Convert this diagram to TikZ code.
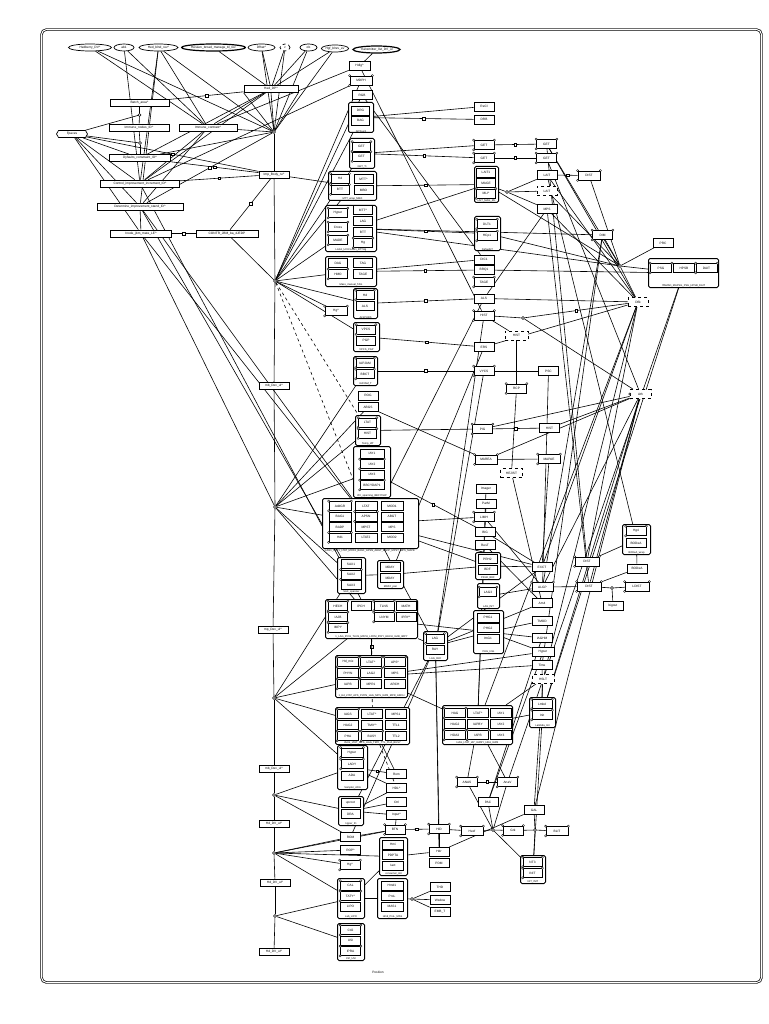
\documentclass[tikz,border=0pt]{standalone}
\usepackage{fontspec}
\setmainfont{Liberation Sans}
\usetikzlibrary{shapes.geometric,shapes.symbols}
\pgfdeclarelayer{bg}
\pgfsetlayers{bg,main}
\newcommand\hatc{\textasciicircum}
\newcommand\bx[5][20]{\node[bx,minimum width=#1pt] (#2) at (#3,#4) {#5};}
\newcommand\dbx[5][20]{\node[bx,dashed,minimum width=#1pt] (#2) at (#3,#4) {#5};}
\newcommand\cpx[5][20]{\node[bx,minimum width=#1pt] (#2) at (#3,#4) {#5};
  \foreach \q in {north west,north east,south west}{\draw[fill=white,line width=0.4pt] (#2.\q) circle (1.1pt);}}
\newcommand\grp[6]{\node[grpst,anchor=north west,minimum width=#4pt,minimum height=#5pt] (#1) at (#2,#3) {};
  \node[gcap,anchor=south] (#1c) at (#1.south) {#6};}
\newcommand\ed[3][]{\draw[ln,#1] (#2) -- (#3);}
\newcommand\edm[3][]{\draw[ln,#1] (#2) -- node[msq]{} (#3);}
\begin{document}
\begin{tikzpicture}[x=1pt,y=-1pt,
 every node/.style={font=\fontsize{3.2}{3.6}\selectfont},
 bx/.style={draw,fill=white,line width=0.7pt,minimum width=20pt,minimum height=9pt,inner sep=0.3pt},
 lb/.style={draw,fill=white,line width=0.7pt,minimum height=7pt,inner sep=0.3pt},
 el/.style={draw,fill=white,ellipse,line width=0.7pt,minimum height=7pt,inner sep=0.2pt},
 grpst/.style={draw,fill=white,line width=1pt,rounded corners=1.5pt,inner sep=0},
 gcap/.style={inner sep=0.6pt,font=\fontsize{2.6}{3}\selectfont},
 jn/.style={draw,fill=white,circle,inner sep=0,minimum size=3pt,line width=0.5pt},
 msq/.style={draw,fill=white,inner sep=0,minimum size=2.6pt,line width=0.5pt},
 ln/.style={line width=0.6pt},
 sig/.style={draw,fill=white,signal,signal to=east and west,signal pointer angle=120,minimum height=7pt,inner sep=0.5pt,line width=0.7pt},
]
\useasboundingbox (0,0) rectangle (768,1024);
\begin{pgfonlayer}{bg}
\fill[white] (0,0) rectangle (768,1024);
\end{pgfonlayer}
\draw[line width=0.7pt,double distance=1pt,rounded corners=5pt] (41.5,29.5) rectangle (761.5,982.5);

% ---- top ellipses
\node[el,minimum width=43pt] (e1) at (90,47.5) {Hedberry\_DV\hatc};
\node[el,minimum width=20pt] (e2) at (124,47.5) {ab1};
\node[el,minimum width=39pt] (e3) at (158.5,47.5) {Hed\_blnd\_rev\hatc};
\node[el,minimum width=61pt,line width=1.2pt] (e4) at (213.5,47.5) {Hessen\_broad\_manage\_bl\_rev};
\node[el,minimum width=27pt] (e5) at (261.5,47.5) {Dfhat\hatc};
\node[el,minimum width=10pt,dashed] (e6) at (285,47.5) {v};
\node[el,minimum width=17pt] (e7) at (308.5,47.5) {ob};
\node[el,minimum width=27pt] (e8) at (335,48.5) {Hgf\_blrev\_ev};
\node[el,minimum width=47pt,line width=1.2pt] (e9) at (376.5,49.5) {Transmitter\_list\_DV\_ul};

% ---- left cluster
\node[lb,minimum width=54pt] (hdp) at (271,89) {Hed\_DP\hatc};
\node[lb,minimum width=59pt] (batch) at (139.5,102.5) {Batch\_area\hatc};
\node[lb,minimum width=60pt] (inodes) at (139,127.5) {Immune\_nodes\_ID\hatc};
\node[lb,minimum width=58pt] (icon) at (208,127.5) {Immune\_contrast\hatc};
\node[sig,minimum width=31pt] (fp) at (72,134) {Fpaces};
\node[lb,minimum width=61pt] (dyf) at (140,158) {Dyfaults\_constraint\_ID\hatc};
\node[lb,minimum width=30pt] (imp) at (274,174.5) {Imp\_Body\_ru\hatc};
\node[lb,minimum width=79pt] (ctrl) at (140,183.5) {Control\_improvement\_increment\_ID\hatc};
\node[lb,minimum width=86pt] (det) at (140,206.5) {Determine\_improvement\_stand\_ID\hatc};
\node[lb,minimum width=61pt] (inode) at (141,233.5) {Inode\_jbm\_mate\_LE\hatc};
\node[lb,minimum width=62pt] (contr) at (227,233.5) {CONTR\_JBM\_ba\_4JEDP};

% ---- chain
\node[lb,minimum width=30pt] (mb1) at (274,386) {mb\_Dev\_ul\hatc};
\node[lb,minimum width=30pt] (mp) at (273,630) {mp\_Dev\_ul\hatc};
\node[lb,minimum width=30pt] (mb2) at (274,769) {mb\_Dev\_ul\hatc};
\node[lb,minimum width=30pt] (hd1) at (274,824) {Hd\_DV\_ul\hatc};
\node[lb,minimum width=30pt] (hd2) at (275,883) {Hd\_DV\_ul\hatc};
\node[lb,minimum width=30pt] (hd3) at (274,952) {Hd\_DV\_ul\hatc};
\node[jn] (hub) at (274,132) {};
\node[jn] (j1) at (275,281) {};
\node[jn] (j2) at (275,507) {};
\node[jn] (j3) at (274,698) {};
\node[jn] (j4) at (274,795) {};
\node[jn] (j5) at (274,853) {};
\node[jn] (j6) at (275,916) {};
\node[jn] (jb) at (139.5,115) {};
\node[jn] (jc) at (140,143) {};

% ---- central column
\bx[21]{hdlg}{359.5}{66}{Hdlg\hatc}
\cpx[22]{mdph}{361}{80.5}{MDPH}
\bx{rgb}{362}{95}{RGB}
\grp{G1}{348}{102}{25}{30}{DrtTouch}
\bx[18]{g1a}{360.5}{110.5}{DRG} \bx[18]{g1b}{360.5}{120.5}{BAG}
\grp{G2}{349}{138}{25}{30}{GET\_Ti}
\cpx[18]{g2a}{361.5}{146.5}{GET} \cpx[18]{g2b}{361.5}{156.5}{GET}
\grp{G3}{328}{171}{48}{29}{MTT\_wrap\_MBO}
\cpx[18]{g3a}{340}{178.5}{Hd} \cpx[18]{g3b}{340}{189.5}{BTT}
\bx[19]{g3c}{363.5}{179}{MTT\hatc} \bx[19]{g3d}{363.5}{190}{MBO}
\grp{G4}{325}{205}{51}{46}{LAG1\_UCICLAG1\_BTTHg}
\cpx[19]{g4a}{338}{213}{Hyper} \cpx[19]{g4b}{338}{227}{Cross} \cpx[19]{g4c}{338}{240}{MADE}
\bx[19]{g4d}{363}{210}{MTT\hatc} \bx[19]{g4e}{363}{221}{LAG} \bx[19]{g4f}{363}{232}{BTT} \cpx[19]{g4g}{363}{243}{Hg}
\grp{G5}{325}{256}{51}{30}{Mass\_manual\_TAG}
\bx[19]{g5a}{338}{263}{DAG} \bx[19]{g5b}{363}{263}{TAG} \cpx[19]{g5c}{338}{274}{HMO} \bx[19]{g5d}{363}{274}{TAGE}
\cpx[22]{hg1}{336}{311}{Hg\hatc}
\grp{G6}{353}{288}{24}{30}{ALSPHBS}
\cpx[18]{g6a}{365}{295}{Hd} \bx[18]{g6b}{365}{306}{ALS}
\grp{G7}{353}{322}{26}{29}{VPCS\_PGP}
\cpx[19]{g7a}{366}{329.5}{VPCS} \bx[19]{g7b}{366}{340.5}{PGP}
\grp{G8}{353}{356}{24}{29}{IAPJAM\_T}
\cpx[18]{g8a}{365}{363}{IAPJAM} \cpx[18]{g8b}{365}{374}{BBCT}
\bx{rog}{368}{395.5}{ROG}
\bx{abgs}{368}{407}{ABGS}
\grp{G9}{355}{415}{25}{30}{Temp\_IAT}
\cpx[18]{g9a}{367.5}{422.5}{LTAT} \cpx[18]{g9b}{367.5}{433.5}{HIST}
\grp{G10}{353}{446}{37}{51}{IAY\_spanning\_BBCYDAP}
\bx[24]{g10a}{372}{453.5}{IAY1} \cpx[24]{g10b}{372}{464}{IAY2} \bx[24]{g10c}{372}{474.5}{IAY3} \cpx[24]{g10d}{372}{485}{BBCYDAP1}
\grp{G11}{322}{498}{96}{50}{}
\node[gcap] (g11t) at (370,551) {LAG1\_MAT1\_LTAT\_MOD1\_BAG1\_APSN\_ABGT\_BADP\_MPST\_MPS\_MAPE};
\cpx[22]{g11a}{340}{506}{AddGR} \bx[22]{g11b}{366}{506}{LTAT} \bx[22]{g11c}{392}{506}{MOD1}
\bx[22]{g11d}{340}{516.5}{BAG1} \cpx[22]{g11e}{366}{516.5}{APSN} \bx[22]{g11f}{392}{516.5}{ABGT}
\bx[22]{g11g}{340}{527}{BADP} \bx[22]{g11h}{366}{527}{MPST} \bx[22]{g11i}{392}{527}{MPS}
\cpx[22]{g11j}{340}{537.5}{Hd1} \bx[22]{g11k}{366}{537.5}{LTAT2} \bx[22]{g11l}{392}{537.5}{MOD2}
\grp{G15}{337}{557}{28}{36}{SAX\_spanner}
\bx[20]{g15a}{351}{564}{SAX1} \cpx[20]{g15b}{351}{574.5}{SAX2} \bx[20]{g15c}{351}{585}{SAX3}
\grp{G16}{377}{560}{26}{28}{MDAY\_pair}
\bx[20]{g16a}{390}{567}{MDAY} \bx[20]{g16b}{390}{578}{MDAY}
\grp{G17}{325}{599}{92}{39}{1\_LAG\_IPCH\_TLNS\_MATH\_LNYM\_IPRY\_HECH\_IAJB\_IMPY}
\cpx[19]{g17a}{338}{606}{HECH} \cpx[19]{g17b}{338}{617}{IAJB} \cpx[19]{g17c}{338}{627.5}{IMPY}
\bx[20]{g17d}{361}{606}{IPCH} \cpx[20]{g17e}{384}{606}{TLNS} \bx[20]{g17f}{406}{606}{MATH}
\cpx[20]{g17g}{384}{617}{LNYM} \bx[20]{g17h}{406}{617}{IPRY\hatc}
\grp{G19}{335}{655}{72}{42}{1\_Hd\_LTAT\_APS\_PHYN\_LAG\_MPS\_IAPB\_MPR\_ARCH}
\cpx[21]{g19a}{348}{662}{Hd\_mix} \cpx[21]{g19b}{371}{662}{LTAT\hatc} \cpx[21]{g19c}{395}{662}{APS\hatc}
\bx[21]{g19d}{348}{673}{PHYN} \cpx[21]{g19e}{371}{673}{LAG2} \bx[21]{g19f}{395}{673}{MPS}
\cpx[21]{g19g}{348}{684}{IAPB} \bx[21]{g19h}{371}{684}{MPR1} \bx[21]{g19i}{395}{684}{ARCH}
\grp{G20}{335}{707}{74}{37}{IAGS\_LTAT\_MPS\_HAG\_TMIY\_TTL\_PHA\_BUSY}
\cpx[21]{g20a}{348}{714}{IAGS} \bx[21]{g20b}{372}{714}{LTAT\hatc} \bx[21]{g20c}{396}{714}{MPS1}
\bx[21]{g20d}{348}{725}{HAG2} \bx[21]{g20e}{372}{725}{TMIY\hatc} \bx[21]{g20f}{396}{725}{TTL1}
\cpx[21]{g20g}{348}{736}{PHA} \cpx[21]{g20h}{372}{736}{BUSY} \bx[21]{g20i}{396}{736}{TTL2}
\grp{G21}{442}{705}{70}{39}{HAG\_LTAT\_IAY\_IAPBY\_HDA\_IAPB}
\cpx[21]{g21a}{455}{713}{HAG} \bx[21]{g21b}{478}{713}{LTAT\hatc} \bx[21]{g21c}{501}{713}{IAY1}
\bx[21]{g21d}{455}{724}{HAG2} \bx[21]{g21e}{478}{724}{IAPBY} \bx[21]{g21f}{501}{724}{IAY2}
\cpx[21]{g21g}{455}{735}{HDA3} \cpx[21]{g21h}{478}{735}{IAPB} \bx[21]{g21i}{501}{735}{IAY3}
\grp{GL}{423}{631}{24}{29}{LAG\_RAY}
\cpx[18]{gla}{435}{638.5}{LAG} \bx[18]{glb}{435}{649.5}{RAY}

% ---- right-center column
\bx{recl}{484}{106.5}{ReCl} \bx{drb}{484}{119.5}{DRB}
\cpx{get1}{484}{145}{GET} \cpx{get2}{484}{158}{GET}
\grp{GR1}{474}{166}{24}{36}{LAIT\_MAG\_ML}
\bx[19]{gr1a}{486}{172.5}{LAIT1} \bx[19]{gr1b}{486}{183}{MAGE} \cpx[19]{gr1c}{486}{193.5}{MLI\hatc}
\grp{GR2}{474}{216}{26}{34}{DefaultLT}
\cpx[20]{gr2a}{487}{224}{DLT1} \cpx[20]{gr2b}{487}{236}{HCp1}
\bx{dic1}{484}{259.5}{DIC1} \bx{bigs}{484}{270}{BRQ1} \cpx{tage}{484}{282}{TAGE}
\bx{als}{484}{298.5}{ALS} \cpx{hist1}{484}{315.5}{HIST}
\dbx[23]{hist2}{516.5}{335.5}{HIST}
\bx{ers}{484}{347}{ERS} \cpx{vycs}{484}{371}{VYCS}
\cpx{rcp}{516.5}{388.5}{RCP} \bx{psc}{548.5}{371}{PSC}
\cpx{pig}{482.5}{429}{PIG} \bx{hist3}{549.5}{428}{HIST}
\cpx[22]{marea}{486}{459.5}{MAREA} \cpx[22]{mapae}{549}{459}{MAPAE}
\dbx[22]{hejist}{511.5}{473}{HEJIST}
\bx{imager}{486}{489}{Imager} \bx{parm}{486}{503.5}{ParM}
\cpx{limh}{484}{517}{LIMH} \bx{big}{485}{532}{BIG} \bx{rest}{485}{545}{ResT}
\grp{GR3}{475}{552}{25}{27}{PRH2\_BDF}
\bx[19]{gr3a}{487.5}{559}{PRH2} \bx[19]{gr3b}{487.5}{569.5}{BDF}
\grp{GR4}{477}{583}{22}{25}{LAG\_INT}
\cpx[17]{gr4a}{488}{592}{LAG3}
\grp{GR5}{473}{610}{30}{43}{PHG\_ImG}
\bx[22]{gr5a}{488}{617.5}{PHG1} \bx[22]{gr5b}{488}{628}{PHG2} \bx[22]{gr5c}{488}{638.5}{ImG1}

% ---- far right
\cpx{get3}{546.5}{144}{GET} \cpx{get4}{546.5}{158}{GET}
\bx{lait1}{547}{175}{LAIT} \dbx{lait2}{547}{191}{LAIT} \bx{mps}{547}{209}{MPS}
\cpx[22]{dist1}{589}{175.5}{DIST} \cpx{dim}{602.5}{235}{DIM} \bx{prc}{663}{243}{PRC}
\node[jn] (jx) at (507,192) {};
\node[jn] (jp) at (620,266) {};
\node[jn] (jr) at (523,318) {};
\grp{GP}{648}{258}{70}{29}{ITAMAD\_MAPSG\_PSG\_HPSB\_DAIT}
\cpx[21]{gpa}{661}{268}{PSG} \bx[21]{gpb}{684}{268}{HPSB} \cpx[21]{gpc}{706.5}{268}{DAIT}
\dbx{dflk}{638}{302}{Dflk}
\node[bx,dashed,minimum width=21pt] (ath) at (640.5,394) {Ath};
\draw[fill=white,line width=0.4pt] (ath.west) circle (1.1pt);

% ---- lower right cluster
\grp{G22}{622}{524}{28}{30}{BODeA\_wrap}
\cpx[20]{g22a}{636}{531}{Hg4} \bx[20]{g22b}{636}{543}{BODeA}
\cpx[24]{dist2}{587}{561.5}{DIST} \bx{bodea}{637}{568.5}{BODeA} \bx{exct}{542}{567}{EXCT}
\cpx[21]{algp}{542.5}{587}{ALGP} \cpx[24]{dist3}{589}{586.5}{DIST} \cpx[24]{cmp3}{637}{586.5}{LDIST}
\node[jn] (jbo) at (612,588) {};
\bx{bigout}{613}{605.5}{bigout}
\bx{am4}{542}{603}{Am4} \bx{tmod}{542}{621}{TMOD} \bx{iaghm}{542}{638}{IAGHM}
\bx[22]{hyper}{543}{652}{Hyper} \bx{time}{542}{665}{Time} \dbx[22]{hslt}{543}{679}{HSLT}
\grp{G23}{529}{697}{26}{30}{Lambda\_Init}
\cpx[20]{g23a}{542}{704}{Lmbd} \cpx[20]{g23b}{542}{715}{Init}

% ---- bottom
\grp{G24}{337}{745}{30}{44}{Sampler\_ADA}
\cpx[22]{g24a}{352}{752.5}{Hyper} \cpx[22]{g24b}{352}{764}{LADY} \bx[22]{g24c}{352}{775.5}{ADA}
\bx{rom}{396.5}{774}{Rom} \bx{hdl}{396.5}{788}{HDL\hatc} \bx{ctl}{396.5}{802}{Ctrl} \bx{inp}{396.5}{815}{Input\hatc}
\grp{G25}{338}{796}{25}{29}{Hyper\_ID}
\bx[19]{g25a}{350.5}{803}{uproot} \bx[19]{g25b}{350.5}{814}{DRA}
\bx{romb}{350.5}{837}{ROM} \cpx{btn}{395}{829.5}{BTN} \bx{rop}{350.5}{850}{ROP\hatc} \cpx{hg2}{350}{865}{Hg\hatc}
\grp{G26}{379}{837}{28}{38}{consumer\_init}
\bx[21]{g26a}{393}{844.5}{Hmi} \bx[21]{g26b}{393}{855}{PDPTA} \bx[21]{g26c}{393}{865.5}{Iact}
\grp{G27}{337}{878}{27}{40}{Lab\_LIPO}
\cpx[20]{g27a}{350.5}{885.5}{CAL} \cpx[20]{g27b}{350.5}{896}{TATY\hatc} \bx[20]{g27c}{350.5}{906.5}{LIPO}
\grp{G28}{377}{878}{30}{40}{Hmd\_ProL\_MAS}
\bx[22]{g28a}{392}{885.5}{Hmd1} \bx[22]{g28b}{392}{896}{ProL} \bx[22]{g28c}{392}{906.5}{MAS1}
\bx{thd}{440}{887}{THD} \bx{wsd}{440}{900}{Wsdow} \bx{emb}{440}{912}{EMB\_T}
\node[jn] (jw) at (412,899) {};
\grp{G29}{337}{923}{27}{37}{Ctrl\_USI}
\cpx[20]{g29a}{350.5}{930}{Ctl2} \bx[20]{g29b}{350.5}{940.5}{USI} \cpx[20]{g29c}{350.5}{951}{IPRA}
\cpx{hid}{439}{829}{HID} \bx{hdr}{439}{851.5}{Hdr} \bx{pdm}{439}{863}{PDM}
\cpx{anas}{467}{782}{ANAS} \cpx{anav}{507.5}{782}{AnaV} \bx{pac}{488}{802}{PAC}
\cpx[22]{hexf}{472}{831}{Hexf} \cpx{grk}{513}{830.5}{Grk}
\node[jn] (jh) at (493,830) {};
\bx{gal}{534}{810}{GAL}
\node[jn] (jg) at (535,830) {};
\cpx[22]{blit}{557}{831}{BLIT}
\grp{G30}{520}{855}{25}{28}{NIT\_INIT}
\cpx[19]{g30a}{532.5}{862}{NT3} \cpx[19]{g30b}{532.5}{873}{INIT}
\node (ttl) at (378,972) {Position};

% ================= connectors
\begin{pgfonlayer}{bg}
\ed{e1}{icon} \ed{e1}{hub} \ed{e2}{icon} \ed{e2}{ctrl}
\ed{e3}{icon} \ed{e3}{ctrl} \ed{e3}{hub} \ed{e3}{det}
\ed{e4}{hdp} \ed{e5}{hdp} \ed{e5}{hub} \ed{e6}{hdp} \ed{e6}{hub}
\ed{e7}{hdp} \ed{e7}{hub} \ed{e8}{hdp} \ed{e8}{hub} \ed{e9}{hdlg}
\draw[ln] (hdp.south west) -- (hub); \draw[ln] (hdp.south) -- (hub); \draw[ln] (hdp.south east) -- (hub);
\edm{hdp}{batch} \ed{hdp}{icon} \ed{hdp}{dyf} \ed{hdp}{ctrl}
\ed{hdlg}{icon} \ed{mdph}{ctrl}
\ed{batch}{jb} \ed{jb}{inodes} \ed{fp}{jb} \ed{inodes}{jc} \ed{jc}{dyf} \ed{fp}{jc}
\edm{fp}{imp} \ed{fp}{dyf} \ed{fp}{ctrl} \ed{fp}{det} \ed{fp}{inode}
\ed{icon}{ctrl} \ed{icon}{det} \edm{dyf}{imp} \edm{ctrl}{imp} \edm{contr}{imp} \edm{inode}{contr}
\edm{det}{hub} \ed{hub}{icon} \ed{hub}{dyf} \ed{det}{inode}
\ed{det}{G11} \ed{det}{G15} \ed{inode}{G11} \ed{inode}{j2} \ed{contr}{j1} \ed{ctrl}{G17}
\ed{hub}{imp} \ed{imp}{j1} \ed{j1}{mb1} \ed{mb1}{j2} \ed{j2}{mp} \ed{mp}{j3} \ed{j3}{mb2}
\ed{mb2}{j4} \ed{j4}{hd1} \ed{hd1}{j5} \ed{j5}{hd2} \ed{hd2}{j6} \ed{j6}{hd3}
\ed{j1}{G1} \ed{j1}{G2} \ed{j1}{mdph} \ed{j1}{rgb} \ed{j1}{G3} \ed{j1}{G4} \ed{j1}{G5}
\ed{j1}{hg1} \ed{j1}{G6} \ed{j1}{G7} \ed[dashed]{j1}{G11} \ed[dashed]{j1}{G9} \ed{imp}{G3}
\ed{j2}{G10} \ed{j2}{G11} \ed{j2}{G15} \ed{j2}{G17} \ed{j2}{G9} \ed{j2}{G8} \ed{j2}{abgs}
\ed{j3}{G19} \ed{j3}{G20} \ed{j3}{G24} \ed{j3}{G17} \ed{j3}{G15}
\ed{j4}{G25} \ed{j4}{G24} \ed{j4}{romb}
\ed{j5}{romb} \ed{j5}{rop} \ed{j5}{hg2} \ed{j5}{G27} \ed{j5}{btn} \ed{j5}{G26}
\ed{j6}{G27} \ed{j6}{G29}
% center to right
\edm{G1}{drb} \ed{G1}{recl} \edm{G2}{get2} \ed{G2}{get1} \edm{G3}{GR1} \edm{G4}{GR2}
\edm{G5}{bigs} \ed{G5}{dic1} \edm{G6}{als} \edm{G7}{ers} \edm{G8}{vycs}
\ed{rgb}{dic1} \ed{G4}{GR1} \ed{G4}{jp} \ed{G4}{dim} \ed{hdlg}{hist1}
\edm{get1}{get3} \edm{get2}{get4}
\ed{GR1}{jx} \ed{jx}{lait1} \ed{jx}{lait2} \ed{jx}{mps} \edm{lait1}{dist1}
\ed{get3}{dflk} \ed{get4}{ath} \ed{lait1}{dflk} \ed{lait2}{jp} \ed{mps}{dflk} \ed{get3}{jp}
\ed{dist1}{jp} \ed{prc}{jp} \ed{jp}{GP} \ed{dim}{jp} \ed{jp}{dflk} \ed{mps}{als}
\ed{GR2}{jp} \ed{GR1}{jp} \ed{bigs}{GP}
\ed{hist1}{jr} \edm{jr}{dflk} \ed{jr}{ath} \ed{als}{dflk} \ed{ers}{dflk}
\ed{vycs}{psc} \ed{hist2}{rcp} \ed{hist2}{hist1}
\edm{pig}{hist3} \ed{marea}{mapae} \ed{ath}{hist3} \ed{ath}{marea} \ed{ath}{pig}
\edm{G10}{big} \ed{abgs}{marea} \ed{G9}{pig} \ed{rcp}{hejist}
\ed{hist1}{GL} \ed{ers}{G16} \ed{vycs}{GL} \ed{als}{G11}
% lower center
\ed{G11}{limh} \ed{G11}{GR3} \ed{G11}{exct} \ed{G11}{GL}
\ed{G16}{GR3} \ed{G15}{G16}
\edm{G17}{G19} \ed[dashed]{G17}{G20} \ed{G17}{GL} \ed{G17}{GR5}
\ed{GL}{GR5} \ed{GL}{exct} \ed{GL}{am4} \ed{GL}{hid} \ed{GL}{hdr}
\ed{GR5}{tmod} \ed{GR5}{iaghm} \ed{GR4}{algp} \ed{GR3}{exct} \ed{GR5}{hyper}
\ed{G19}{G21} \ed{G19}{hyper} \ed{G21}{G23} \ed{G21}{anav} \ed{G21}{anas} \ed{G21}{hslt} \ed{G19}{time}
\ed[dashed]{G20}{hdl} \ed{G20}{rom}
\ed{limh}{algp} \ed{big}{exct} \ed{rest}{am4} \ed{imager}{G21} \ed{parm}{G21}
\ed{hejist}{am4} \ed{mapae}{exct} \ed{psc}{algp}
% lower right
\ed{G22}{dist2} \ed{G22}{bodea} \ed{bodea}{dist3} \ed{algp}{dist3} \ed{dist3}{jbo} \ed{jbo}{cmp3} \ed{jbo}{bigout}
\ed{dflk}{dist2} \ed{dflk}{exct} \ed{ath}{dist3} \ed{ath}{algp} \ed{get3}{dist2} \ed{lait1}{G22} \ed{mps}{dist3} \ed{dim}{algp}
\ed{dflk}{G21} \ed{ath}{G23} \ed{GP}{anav} \ed{dflk}{hslt} \ed{ath}{gal} \ed{GP}{G23} \ed{dim}{time}
\ed{G23}{G30} \ed{hslt}{gal} \ed{time}{G23} \ed{iaghm}{pac} \ed{hyper}{pac}
% bottom
\ed{anas}{jh} \ed{anav}{jh} \ed{pac}{jh} \ed{hexf}{jh} \ed{jh}{grk} \ed{jh}{G30} \edm{anas}{anav}
\ed{grk}{jg} \ed{gal}{jg} \ed{jg}{blit} \ed{jg}{G30} \ed{hdr}{gal}
\edm{G24}{rom} \ed{hdl}{G24} \ed{hdl}{G25} \ed{ctl}{G25} \ed{inp}{G25}
\ed{romb}{btn} \edm{btn}{hid} \ed{hid}{hexf} \ed{G26}{hdr} \ed{hid}{hdr} \ed{inp}{btn}
\ed{G28}{jw} \ed{jw}{thd} \ed{jw}{wsd} \ed{jw}{emb} \ed{G27}{G28} \ed{G27}{G26}
\ed{romb}{GL} \ed{G25}{GL}
\end{pgfonlayer}
\end{tikzpicture}
\end{document}
